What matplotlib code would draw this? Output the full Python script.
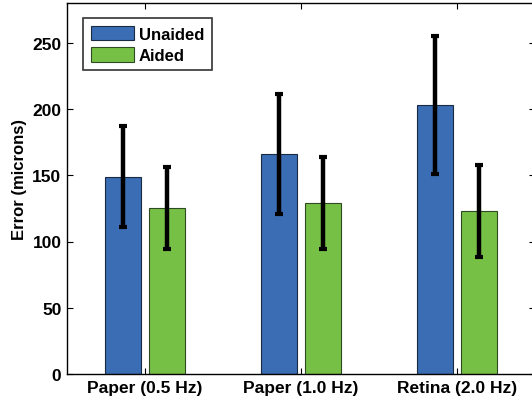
import matplotlib
matplotlib.use("Agg")
import matplotlib.pyplot as plt
import numpy as np

plt.rcParams['font.family'] = ['Liberation Sans', 'DejaVu Sans']
plt.rcParams['font.weight'] = 'bold'

categories = ["Paper (0.5 Hz)", "Paper (1.0 Hz)", "Retina (2.0 Hz)"]
unaided = [149, 166, 203]
unaided_err = [38, 45, 52]
aided = [125.5, 129, 123]
aided_err = [31, 34.5, 34.5]
yticks = [0, 50, 100, 150, 200, 250]

W, H = 532, 402
fig = plt.figure(figsize=(W / 100, H / 100), dpi=100)
left, right, bottom, top = 67, 535, 375, 4
ax = fig.add_axes([left / W, (H - bottom) / H, (right - left) / W, (bottom - top) / H])

x = np.arange(1, len(categories) + 1)
off = 0.142
width = 0.232
blue = "#3A6DB3"
green = "#76C145"
ax.bar(x - off, unaided, width, color=blue, edgecolor="#1a2a40", linewidth=0.8, label="Unaided", zorder=2)
ax.bar(x + off, aided, width, color=green, edgecolor="#2f4a22", linewidth=0.8, label="Aided", zorder=2)
ax.errorbar(x - off, unaided, yerr=unaided_err, fmt="none", ecolor="black", elinewidth=3.2,
            capsize=2.6, capthick=3, zorder=3)
ax.errorbar(x + off, aided, yerr=aided_err, fmt="none", ecolor="black", elinewidth=3.2,
            capsize=2.6, capthick=3, zorder=3)

ax.set_xlim(0.5, 3.5)
ax.set_ylim(0, 280)
ax.set_xticks(x)
ax.set_xticklabels(categories, fontsize=12.5, fontweight="bold")
ax.set_yticks(yticks)
ax.set_yticklabels([str(t) for t in yticks], fontsize=12.5, fontweight="bold")
ax.tick_params(direction="in", top=True, right=True, length=4, width=0.8, pad=4)
for s in ax.spines.values():
    s.set_linewidth(1.0)
ax.set_ylabel("Error (microns)", fontsize=12, fontweight="bold")
ax.yaxis.set_label_coords((27 - left) / (right - left), (bottom - 180) / (bottom - top))

leg = ax.legend(loc="upper left", bbox_to_anchor=((83 - left) / (right - left), 1 - (19 - top) / (bottom - top)),
                frameon=True, fancybox=False, edgecolor="black", fontsize=12,
                handlelength=2.6, handleheight=1.0, borderpad=0.45, labelspacing=0.3,
                handletextpad=0.3, borderaxespad=0)
leg.get_frame().set_linewidth(1.2)

fig.savefig("out.png", dpi=100)
